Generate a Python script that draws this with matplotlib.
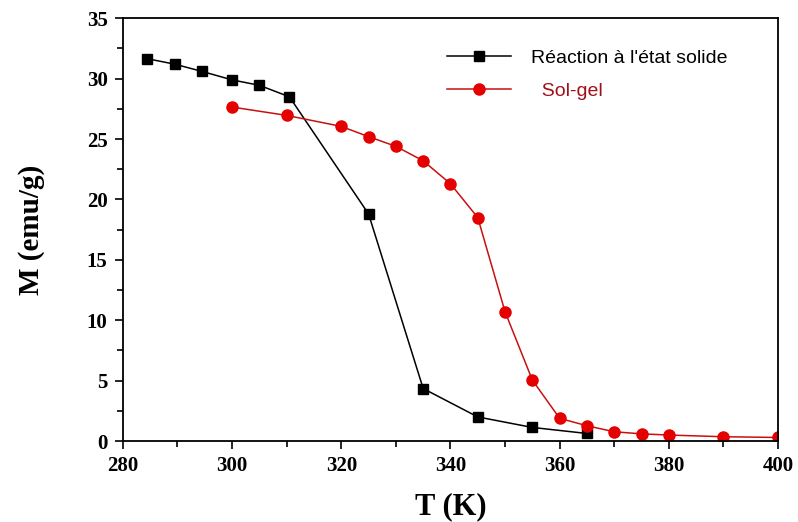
import matplotlib
matplotlib.use("Agg")
import matplotlib.pyplot as plt
from matplotlib.ticker import MultipleLocator

# solid-state reaction data
t_solid = [284.5, 289.5, 294.5, 300, 305, 310.5, 325, 335, 345, 355, 365]
m_solid = [31.65, 31.2, 30.6, 29.9, 29.45, 28.5, 18.8, 4.35, 2.0, 1.13, 0.63]

# sol-gel data
t_solgel = [300, 310, 320, 325, 330, 335, 340, 345, 350, 355, 360, 365, 370, 375, 380, 390, 400]
m_solgel = [27.65, 26.96, 26.05, 25.2, 24.4, 23.2, 21.3, 18.5, 10.7, 5.05, 1.88, 1.27, 0.77, 0.6, 0.5, 0.36, 0.3]

labels = ["Réaction à l'état solide", "  Sol-gel"]

fig = plt.figure(figsize=(7.98, 5.22), dpi=100)
ax = fig.add_axes([0.154, 0.155, 0.821, 0.81])

ax.plot(t_solid, m_solid, color="black", linestyle="-", linewidth=1.1,
        marker="s", markersize=7, markerfacecolor="black", label=labels[0])
ax.plot(t_solgel, m_solgel, color="#c81010", linestyle="-", linewidth=1.1,
        marker="o", markersize=8, markerfacecolor="#e50000", markeredgecolor="#e50000",
        label=labels[1])

ax.set_xlim(280, 400)
ax.set_ylim(0, 35)
ax.xaxis.set_major_locator(MultipleLocator(20))
ax.xaxis.set_minor_locator(MultipleLocator(10))
ax.yaxis.set_major_locator(MultipleLocator(5))
ax.yaxis.set_minor_locator(MultipleLocator(2.5))
ax.tick_params(which="both", direction="out", top=False, right=False, width=1.2)
ax.tick_params(which="major", length=6, pad=5)
ax.tick_params(which="minor", length=4)
for lab in ax.get_xticklabels() + ax.get_yticklabels():
    lab.set_family("Liberation Serif")
    lab.set_fontsize(15)
    lab.set_fontweight("bold")
for sp in ax.spines.values():
    sp.set_linewidth(1.3)

ax.set_xlabel("T (K)", family="Liberation Serif", fontsize=22, fontweight="bold")
ax.set_ylabel("M (emu/g)", family="Liberation Serif", fontsize=21, fontweight="bold")
ax.xaxis.set_label_coords(0.5, -0.120)
ax.yaxis.set_label_coords(-0.119, 0.5)

leg = ax.legend(loc="upper left", bbox_to_anchor=(0.468, 0.968), frameon=False,
                prop={"family": "Liberation Sans", "size": 14},
                handlelength=3.3, handletextpad=1.0, labelspacing=0.8,
                borderpad=0.4)
leg.get_texts()[1].set_color("#a0101a")

fig.savefig("out.png", dpi=100)
